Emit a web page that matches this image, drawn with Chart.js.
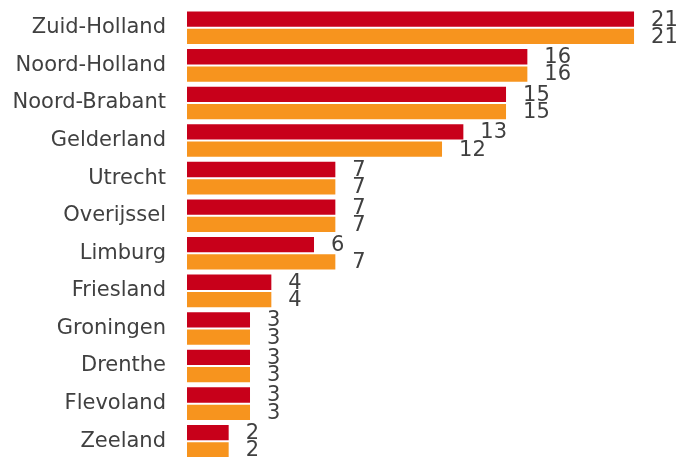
<!DOCTYPE html>
<html>
<head>
<meta charset="utf-8">
<script src="https://cdn.jsdelivr.net/npm/chart.js@4"></script>
<style>
  html, body { margin: 0; padding: 0; background: #fff; overflow: hidden; }
  canvas { display: block; }
</style>
</head>
<body>
<canvas id="grafico" width="676" height="460"></canvas>
<script>
const provincies = ['Zuid-Holland', 'Noord-Holland', 'Noord-Brabant', 'Gelderland', 'Utrecht',
  'Overijssel', 'Limburg', 'Friesland', 'Groningen', 'Drenthe', 'Flevoland', 'Zeeland']
const reeksRood = [21, 16, 15, 13, 7, 7, 6, 4, 3, 3, 3, 2]
const reeksOranje = [21, 16, 15, 12, 7, 7, 7, 4, 3, 3, 3, 2]

// getallen achter de balken
const waardeLabels = {
  id: 'waardeLabels',
  afterDatasetsDraw(chart) {
    const ctx = chart.ctx
    ctx.save()
    ctx.font = '21px "DejaVu Sans"'
    ctx.fillStyle = '#404040'
    ctx.textBaseline = 'middle'
    chart.data.datasets.forEach((ds, i) => {
      chart.getDatasetMeta(i).data.forEach((bar, j) => {
        ctx.fillText(ds.data[j], bar.x + 16, bar.y + 1)
      })
    })
    ctx.restore()
  }
}

function crearGrafico(labels, datasets, chartNode) {
  const config = {
    type: 'bar',
    data: { labels, datasets },
    options: {
      indexAxis: 'y',
      responsive: false,
      animation: false,
      devicePixelRatio: 1,
      layout: { padding: { top: 9, right: 0, bottom: 0, left: 0 } },
      plugins: { legend: { display: false }, tooltip: { enabled: false } },
      scales: {
        x: { display: false, min: 0, max: 22.92 },
        y: {
          grid: { display: false, drawTicks: false },
          border: { display: false },
          ticks: { color: '#404040', font: { family: 'DejaVu Sans', size: 21 }, padding: 21 },
          afterFit: (axis) => {
            axis.width = 187
            axis.paddingTop = 0
            axis.paddingBottom = 0
          }
        }
      }
    },
    plugins: [waardeLabels]
  }
  return new Chart(chartNode, config)
}

const datasets = [
  { label: 'rood', data: reeksRood, backgroundColor: '#c8001a', borderColor: 'rgba(255,255,255,0.5)', borderWidth: 1, categoryPercentage: 0.92, barPercentage: 1 },
  { label: 'oranje', data: reeksOranje, backgroundColor: '#f7941e', borderColor: 'rgba(255,255,255,0.5)', borderWidth: 1, categoryPercentage: 0.92, barPercentage: 1 }
]

crearGrafico(provincies, datasets, document.getElementById('grafico'))
</script>
</body>
</html>
